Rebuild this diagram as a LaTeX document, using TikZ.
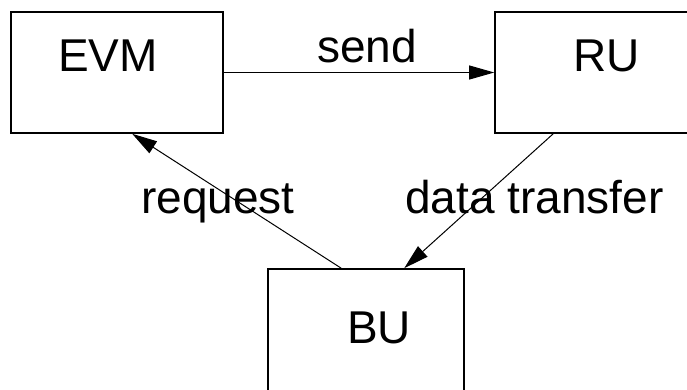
\documentclass[tikz,border=0pt]{standalone}
\usepackage{fontspec}
\setmainfont{Liberation Sans}
\usetikzlibrary{arrows.meta}

\tikzset{
  unit/.style={draw, line width=1.6pt, inner sep=0pt},
  lbl/.style={anchor=base west, inner sep=0pt, font=\fontsize{46}{55}\selectfont},
  flow/.style={line width=1pt, -{Triangle[length=25pt,width=14pt]}}
}

\begin{document}
\begin{tikzpicture}[x=1pt,y=1pt]
\useasboundingbox (0,0) rectangle (687,389);
\node (evm) [unit, minimum width=212pt, minimum height=121pt] at (117,316.5) {};
\node (ru) [unit, minimum width=195pt, minimum height=121pt] at (592.5,316.5) {};
\node (bu) [unit, minimum width=196pt, minimum height=130pt] at (366,55) {};
\node (evmtext) [lbl] at (58,317) {EVM};
\node (rutext) [lbl] at (573,317) {RU};
\node (butext) [lbl] at (347,46) {BU};
\draw [flow] (evm.east) -- (ru.west);
\draw [flow] ([xshift=74pt]bu.north west) -- ([xshift=122pt]evm.south west);
\draw [flow] ([xshift=59pt]ru.south west) -- ([xshift=137pt]bu.north west);
\node (send) [lbl] at (317,326) {send};
\node (request) [lbl] at (141,176) {request};
\node (transfer) [lbl] at (405,176) {data transfer};
\end{tikzpicture}
\end{document}
